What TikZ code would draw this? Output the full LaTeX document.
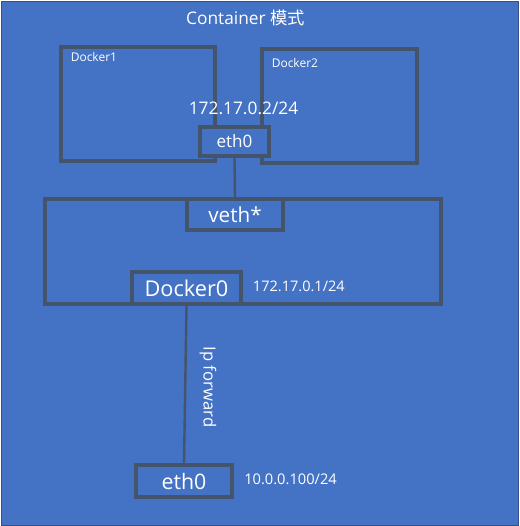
\documentclass[tikz,border=0pt]{standalone}
\usepackage{fontspec}
\setmainfont{Open Sans}
\newfontfamily\cjk{Noto Sans CJK SC}
\definecolor{bgblue}{HTML}{4472C4}
\definecolor{edge}{HTML}{44546A}
\definecolor{frame}{HTML}{2F528F}
\tikzset{
  box/.style={draw=edge, line width=3pt, rectangle, inner sep=0pt, text=white},
  filledbox/.style={box, fill=bgblue},
  lbl/.style={text=white, inner sep=0pt},
  conn/.style={draw=edge, line width=1.8pt},
}
\begin{document}
\begin{tikzpicture}[x=0.75pt,y=-0.75pt]
\useasboundingbox (0,0) rectangle (520,526);
\fill[white] (0,0) rectangle (520,526);
\draw[fill=bgblue, draw=frame, line width=0.75pt] (1,1) rectangle (518,525);
\node[lbl, font=\fontsize{13}{15}\selectfont] (title) at (245.5,18) {Container {\cjk 模式}};
% containers
\node[box, minimum width=115.5pt, minimum height=85.5pt] (d1) at (138,104) {};
\node[box, minimum width=116.25pt, minimum height=85.5pt] (d2) at (339.5,106) {};
\node[lbl, anchor=west, font=\fontsize{9}{11}\selectfont] (d1l) at (70.5,57) {Docker1};
\node[lbl, anchor=west, font=\fontsize{9}{11}\selectfont] (d2l) at (271.5,63) {Docker2};
\node[lbl, font=\fontsize{13}{15}\selectfont] (ip2) at (243.5,108) {172.17.0.2/24};
\node[filledbox, minimum width=51.75pt, minimum height=21.75pt, font=\fontsize{12.8}{15}\selectfont] (eth0a) at (234.5,141.5) {eth0};
% host bridge
\node[box, minimum width=297pt, minimum height=78.75pt] (host) at (243,251.5) {};
\node[filledbox, minimum width=72pt, minimum height=23.25pt, font=\fontsize{15.5}{18}\selectfont] (veth) at (235,214.5) {veth*};
\node[filledbox, minimum width=81.75pt, minimum height=24pt, font=\fontsize{16.3}{19}\selectfont] (dk0) at (186.5,288) {Docker0};
\node[lbl, anchor=west, font=\fontsize{10.9}{13}\selectfont] (ip1) at (252.7,286.7) {172.17.0.1/24};
% physical
\node[filledbox, minimum width=72pt, minimum height=24pt, font=\fontsize{16}{19}\selectfont] (eth0b) at (184,481) {eth0};
\node[lbl, anchor=west, font=\fontsize{11}{13}\selectfont] (ip0) at (244,479) {10.0.0.100/24};
% connectors
\draw[conn] (eth0a.south) -- (veth.north);
\draw[conn] (dk0.south) -- (eth0b.north);
\node[lbl, rotate=-90, font=\fontsize{12.5}{15}\selectfont] (fwd) at (208,387) {Ip forward};
\end{tikzpicture}
\end{document}
